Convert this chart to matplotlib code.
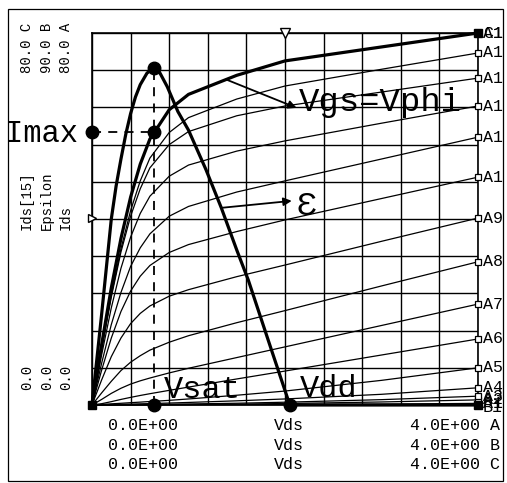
import matplotlib
matplotlib.use("Agg")
import matplotlib.pyplot as plt
import numpy as np
from matplotlib.patches import Rectangle

W, H = 507, 483
MONO = ['Liberation Mono', 'DejaVu Sans Mono']

# ---------------- data ----------------
vds = [0, 0.1, 0.2, 0.3, 0.4, 0.5, 0.6, 0.8, 1.0, 1.5, 2.0, 3.0, 4.0]

ids_A1 = [0, 0.0, 0.01, 0.01, 0.01, 0.02, 0.02, 0.03, 0.04, 0.07, 0.1, 0.2, 0.35]
ids_A2 = [0, 0.01, 0.02, 0.03, 0.04, 0.05, 0.06, 0.08, 0.11, 0.2, 0.32, 0.65, 1.1]
ids_A3 = [0, 0.02, 0.04, 0.06, 0.08, 0.1, 0.12, 0.17, 0.22, 0.38, 0.6, 1.15, 1.9]
ids_A4 = [0, 0.05, 0.1, 0.15, 0.2, 0.25, 0.3, 0.42, 0.55, 0.9, 1.3, 2.3, 3.7]
ids_A5 = [0, 0.12, 0.25, 0.37, 0.5, 0.62, 0.75, 1.0, 1.3, 2.1, 3.0, 5.3, 8.0]
ids_A6 = [0, 0.28, 0.72, 1.2, 1.64, 2.05, 2.43, 3.15, 3.85, 5.6, 7.3, 10.75, 14.2]
ids_A7 = [0, 1.2, 2.5, 3.6, 4.5, 5.2, 5.8, 6.9, 7.9, 10.2, 12.5, 17.1, 21.7]
ids_A8 = [0, 2.6, 5.1, 7.4, 9.2, 10.6, 11.8, 13.5, 14.9, 17.7, 20.3, 25.6, 30.8]
ids_A9 = [0, 5.4, 10.4, 14.4, 17.5, 19.7, 21.3, 23.4, 24.8, 27.6, 30.1, 35.2, 40.2]
ids_A10 = [0, 7.5, 14.4, 20.1, 24.5, 27.7, 30.0, 32.8, 34.5, 37.3, 39.8, 44.4, 49.0]
ids_A11 = [0, 9.0, 17.3, 24.2, 29.8, 33.8, 36.8, 40.6, 42.7, 45.8, 48.2, 52.9, 57.6]
ids_A12 = [0, 10.8, 20.9, 29.4, 36.1, 41.2, 44.9, 49.2, 51.6, 54.6, 56.8, 60.6, 64.3]
ids_A13 = [0, 12.0, 23.2, 32.9, 40.6, 46.5, 51.0, 56.0, 58.8, 62.2, 64.3, 67.3, 70.3]
ids_A14 = [0, 12.2, 23.6, 33.6, 41.8, 48.2, 53.1, 58.6, 61.8, 65.8, 68.6, 72.2, 75.7]
ids_A15 = [0, 13.0, 25.2, 35.8, 44.7, 51.8, 57.2, 63.5, 66.8, 70.9, 74.0, 77.0, 80.0]

ids_family = [ids_A1, ids_A2, ids_A3, ids_A4, ids_A5, ids_A6, ids_A7, ids_A8,
              ids_A9, ids_A10, ids_A11, ids_A12, ids_A13, ids_A14, ids_A15]
family_labels = ["A1", "A2", "A3", "A4", "A5", "A6", "A7", "A8",
                 "A9", "A10", "A11", "A12", "A13", "A14", "A15"]

# Ids[15]  (trace C, 0..80)
ids15 = [0, 13.0, 25.2, 35.8, 44.7, 51.8, 57.2, 63.5, 66.8, 70.9, 74.0, 77.0, 80.0]

# Epsilon (trace B, 0..90)
eps_vds = [0, 0.1, 0.2, 0.25, 0.3, 0.35, 0.4, 0.45, 0.5, 0.57, 0.64, 0.7, 0.78,
           0.89, 1.0, 1.18, 1.34, 1.5, 1.62, 1.85, 2.05, 4.0]
eps = [0, 22, 45, 53, 59.5, 65.5, 70.5, 74.5, 77.5, 80.3, 81.5, 80.5, 77,
       71, 66.5, 57, 47.7, 37.5, 30.2, 14, 0, 0]

imax_v, imax_i = 0.64, 58.8
eps_peak = 81.5
vdd_v = 2.05
cursor_v = 2.0
cursor_i = 40.2

x_range = (0, 4)
y_range_A = (0, 80)
y_range_B = (0, 90)

# ---------------- figure ----------------
fig = plt.figure(figsize=(W / 100, H / 100), dpi=100)
fig.patch.set_facecolor('white')

frame = Rectangle((8 / W, 1 - 481 / H), 495 / W, 472 / H, transform=fig.transFigure,
                  fill=False, lw=0.9, ec='black')
fig.add_artist(frame)

ax = fig.add_axes([92 / W, 1 - 405 / H, 386 / W, 372 / H])
ax.set_xlim(*x_range)
ax.set_ylim(*y_range_A)
ax.set_xticks(np.linspace(0, 4, 11))
ax.set_yticks(np.linspace(0, 80, 11))
ax.tick_params(length=0, labelbottom=False, labelleft=False)
ax.grid(True, color='black', lw=1.0)
for s in ax.spines.values():
    s.set_linewidth(1.2)
    s.set_color('black')

ax2 = ax.twinx()
ax2.set_ylim(*y_range_B)
ax2.set_axis_off()

# family curves
for lab, arr in zip(family_labels, ids_family):
    ax.plot(vds, arr, color='black', lw=0.9, clip_on=False, zorder=3)
    ax.plot(vds[-1], arr[-1], marker='s', ms=4.5, mfc='white', mec='black',
            mew=0.9, clip_on=False, zorder=4)
    t = ax.annotate(lab, xy=(vds[-1], arr[-1]), xytext=(5, 0), textcoords='offset pixels',
                    ha='left', va='center', fontsize=12, family=MONO,
                    annotation_clip=False)
    t.set_clip_path(frame)
    t.set_clip_on(True)

# Ids[15] thick
ax.plot(vds, ids15, color='black', lw=2.3, clip_on=False, zorder=5)
ax.plot(vds[-1], ids15[-1], marker='s', ms=6, color='black', clip_on=False, zorder=6)
tc = ax.annotate("C1", xy=(vds[-1], ids15[-1]), xytext=(5, 0), textcoords='offset pixels',
                 ha='left', va='center', fontsize=12, family=MONO, annotation_clip=False)
tc.set_clip_path(frame)
tc.set_clip_on(True)

# Epsilon thick
ax2.plot(eps_vds, eps, color='black', lw=2.3, clip_on=False, zorder=5)
ax2.plot(eps_vds[-1], eps[-1], marker='s', ms=6, color='black', clip_on=False, zorder=6)
tb = ax2.annotate("B1", xy=(eps_vds[-1], eps[-1]), xytext=(5, -3), textcoords='offset pixels',
                  ha='left', va='center', fontsize=12, family=MONO, annotation_clip=False)
tb.set_clip_path(frame)
tb.set_clip_on(True)

# origin marker
ax.plot(vds[0], ids15[0], marker='s', ms=6, color='black', clip_on=False, zorder=7)

# dashed construction lines and points
ax.plot([0, imax_v], [imax_i, imax_i], color='black', lw=1.3, ls=(0, (5, 4)),
        clip_on=False, zorder=6)
ax2.plot([imax_v, imax_v], [0, eps_peak], color='black', lw=1.3, ls=(0, (5, 4)),
         clip_on=False, zorder=6)
ax.plot(0, imax_i, 'o', ms=9, color='black', clip_on=False, zorder=8)
ax.plot(imax_v, imax_i, 'o', ms=9, color='black', clip_on=False, zorder=8)
ax2.plot(imax_v, eps_peak, 'o', ms=9, color='black', clip_on=False, zorder=8)
ax.plot(imax_v, 0, 'o', ms=9, color='black', clip_on=False, zorder=8)
ax.plot(vdd_v, 0, 'o', ms=9, color='black', clip_on=False, zorder=8)

# cursors
ax.plot(cursor_v, 80, marker='v', ms=7, mfc='white', mec='black', clip_on=False, zorder=8)
ax.plot(0, cursor_i, marker='>', ms=6, mfc='white', mec='black', clip_on=False, zorder=8)

# annotations
ax.annotate('', xy=(2.12, 63.9), xytext=(1.39, 70.0),
            arrowprops=dict(arrowstyle='-|>', color='black', lw=1.3, mutation_scale=12,
                            shrinkA=0, shrinkB=0), zorder=9)
ax.text(2.14, 63.2, "Vgs=Vphi", fontsize=24.5, family=MONO, ha='left', va='baseline',
        zorder=9)
ax.annotate('', xy=(2.07, 43.9), xytext=(1.34, 47.7), textcoords=ax2.transData,
            arrowprops=dict(arrowstyle='-|>', color='black', lw=1.3, mutation_scale=12,
                            shrinkA=0, shrinkB=0), zorder=9)
ax.text(2.12, 40.9, "Ɛ", fontsize=24, family=MONO, ha='left', va='baseline', zorder=9)
ax.text(0.74, 1.5, "Vsat", fontsize=23, family=MONO, ha='left', va='baseline', zorder=9)
ax.text(2.155, 1.7, "Vdd", fontsize=23, family=MONO, ha='left', va='baseline', zorder=9)
fig.text(5 / W, 1 - 142 / H, "Imax", fontsize=22, family=MONO, ha='left', va='baseline')

# bottom scale labels
rows = [("A", -0.054), ("B", -0.108), ("C", -0.161)]
for letter, yy in rows:
    ax.text(0.041, yy, "0.0E+00", transform=ax.transAxes, ha='left', va='center',
            fontsize=12, family=MONO)
    ax.text(0.510, yy, "Vds", transform=ax.transAxes, ha='center', va='center',
            fontsize=12, family=MONO)
    ax.text(0.824, yy, "4.0E+00 " + letter, transform=ax.transAxes, ha='left',
            va='center', fontsize=12, family=MONO)

# left rotated labels
cols = [27, 47, 66]
top_labels = ["80.0 C", "90.0 B", "80.0 A"]
name_labels = ["Ids[15]", "Epsilon", "Ids"]
bot_labels = ["0.0", "0.0", "0.0"]
for x, tl, nl, bl in zip(cols, top_labels, name_labels, bot_labels):
    fig.text(x / W, 1 - 73 / H, tl, rotation=90, rotation_mode='anchor', ha='left',
             va='center', fontsize=10, family=MONO)
    fig.text(x / W, 1 - 230 / H, nl, rotation=90, rotation_mode='anchor', ha='left',
             va='center', fontsize=10, family=MONO)
    fig.text(x / W, 1 - 390 / H, bl, rotation=90, rotation_mode='anchor', ha='left',
             va='center', fontsize=10, family=MONO)

fig.savefig("out.png", dpi=100, facecolor='white')
